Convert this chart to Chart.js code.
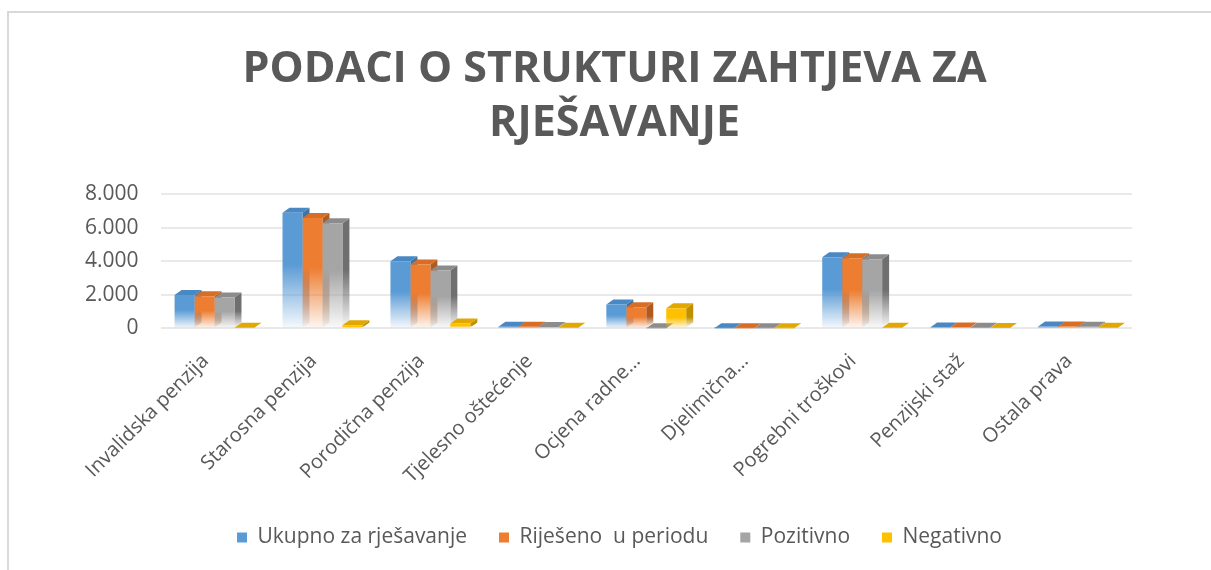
<!DOCTYPE html>
<html>
<head>
<meta charset="utf-8">
<script src="https://cdn.jsdelivr.net/npm/chart.js@4/dist/chart.umd.min.js"></script>
<style>
  html, body { margin: 0; padding: 0; background: #fff; overflow: hidden; }
  #frame { position: absolute; left: 7px; top: 11px; width: 1300px; height: 700px;
           border-left: 2px solid #d9d9d9; border-top: 2px solid #d9d9d9; }
  #wrap { position: absolute; left: 0; top: 0; width: 1211px; height: 570px; }
</style>
</head>
<body>
<div id="frame"></div>
<div id="wrap"><canvas id="myChart" width="1211" height="570"></canvas></div>
<script>
const categories = ['Invalidska penzija', 'Starosna penzija', 'Porodična penzija', 'Tjelesno oštećenje',
    'Ocjena radne…', 'Djelimična…', 'Pogrebni troškovi', 'Penzijski staž', 'Ostala prava'];
const ukupno    = [2000, 6900, 4000, 100, 1430, 20, 4250, 60, 120];
const rijeseno  = [1920, 6580, 3820, 100, 1260, 20, 4190, 60, 120];
const pozitivno = [1850, 6270, 3460,  90,   10, 20, 4130, 50, 110];
const negativno = [  40,  200,  300,  40, 1200, 20,   40, 30,  40];
const yTicks = [0, 2000, 4000, 6000, 8000];

const seriesNames = ['Ukupno za rješavanje', 'Riješeno  u periodu', 'Pozitivno', 'Negativno'];
const front = ['#5b9bd5', '#ed7d31', '#a5a5a5', '#ffc000'];
const side  = ['#3f73a3', '#b05a1f', '#6f6f6f', '#bf8f00'];
const top_  = ['#4a88c4', '#d86e25', '#8c8c8c', '#e0a800'];

const DX = 7, DY = 5; // fake depth for the 3D look

function hexA(hex, a) {
    const n = parseInt(hex.slice(1), 16);
    return `rgba(${n >> 16}, ${(n >> 8) & 255}, ${n & 255}, ${a})`;
}

function fadeFill(i) {
    return function (context) {
        const chart = context.chart;
        const y = chart.scales.y;
        if (!chart.chartArea || !y || context.raw == null) return front[i];
        const t = y.getPixelForValue(context.raw);
        const b = y.getPixelForValue(0);
        if (b - t < 2) return front[i];
        const g = chart.ctx.createLinearGradient(0, t, 0, b);
        g.addColorStop(0, front[i]);
        g.addColorStop(0.45, front[i]);
        g.addColorStop(1, hexA(front[i], 0.05));
        return g;
    };
}

// side and top faces drawn behind the bars, from the bar elements the library laid out
const depthPlugin = {
    id: 'depth',
    afterLayout(chart) {
        // the original centres title and legend a bit right of the padded box
        const nudge = (box, dx) => { if (box) { box.left += dx; box.right += dx; } };
        nudge(chart.titleBlock, 17);
        nudge(chart.legend, 22);
    },
    beforeDatasetsDraw(chart) {
        const ctx = chart.ctx;
        ctx.save();
        chart.data.datasets.forEach((ds, i) => {
            const meta = chart.getDatasetMeta(i);
            meta.data.forEach(bar => {
                const l = bar.x - bar.width / 2, r = bar.x + bar.width / 2;
                const t = bar.y, b = bar.base;
                const g = ctx.createLinearGradient(0, t, 0, b);
                g.addColorStop(0, side[i]);
                g.addColorStop(0.45, side[i]);
                g.addColorStop(1, hexA(side[i], 0.05));
                ctx.fillStyle = g;
                ctx.beginPath();
                ctx.moveTo(r, t);
                ctx.lineTo(r + DX, t - DY);
                ctx.lineTo(r + DX, b - DY);
                ctx.lineTo(r, b);
                ctx.closePath();
                ctx.fill();
                ctx.fillStyle = top_[i];
                ctx.beginPath();
                ctx.moveTo(l, t);
                ctx.lineTo(l + DX, t - DY);
                ctx.lineTo(r + DX, t - DY);
                ctx.lineTo(r, t);
                ctx.closePath();
                ctx.fill();
            });
        });
        ctx.restore();
    }
};

const series = [ukupno, rijeseno, pozitivno, negativno];

const chart = new Chart(document.getElementById('myChart').getContext('2d'), {
    type: 'bar',
    data: {
        labels: categories,
        datasets: series.map((vals, i) => ({
            label: seriesNames[i],
            data: vals,
            backgroundColor: fadeFill(i),
            borderWidth: 0,
            categoryPercentage: 0.74,
            barPercentage: 1.0
        }))
    },
    options: {
        responsive: false,
        animation: false,
        layout: { padding: { left: 63, right: 79, top: 42, bottom: 12 } },
        plugins: {
            title: {
                display: true,
                text: ['PODACI O STRUKTURI ZAHTJEVA ZA', 'RJEŠAVANJE'],
                color: '#595959',
                font: { family: 'Open Sans', size: 43, weight: 'bold', lineHeight: 1.27 },
                padding: { top: 0, bottom: 43 }
            },
            legend: {
                position: 'bottom',
                labels: {
                    color: '#595959',
                    font: { family: 'Open Sans', size: 21 },
                    boxWidth: 10,
                    boxHeight: 10,
                    padding: 32,
                    generateLabels(c) {
                        return seriesNames.map((n, i) => ({
                            text: n, fillStyle: front[i], strokeStyle: front[i],
                            lineWidth: 0, datasetIndex: i, fontColor: '#595959'
                        }));
                    }
                }
            },
            tooltip: { enabled: false }
        },
        scales: {
            x: {
                grid: { display: false },
                border: { display: false },
                afterFit(axis) { axis.height = axis.height - 6; },
                ticks: {
                    color: '#595959',
                    font: { family: 'Open Sans', size: 20 },
                    maxRotation: 45,
                    minRotation: 45,
                    autoSkip: false,
                    padding: 13,
                    labelOffset: -9
                }
            },
            y: {
                min: 0,
                max: 8000,
                afterBuildTicks(axis) { axis.ticks = yTicks.map(v => ({ value: v })); },
                grid: { color: '#e9e9e9', lineWidth: 2, drawTicks: false },
                border: { display: false },
                ticks: {
                    color: '#595959',
                    font: { family: 'Open Sans', size: 21 },
                    padding: 22,
                    callback: v => v.toLocaleString('de-DE')
                }
            }
        }
    },
    plugins: [depthPlugin]
});
</script>
</body>
</html>
